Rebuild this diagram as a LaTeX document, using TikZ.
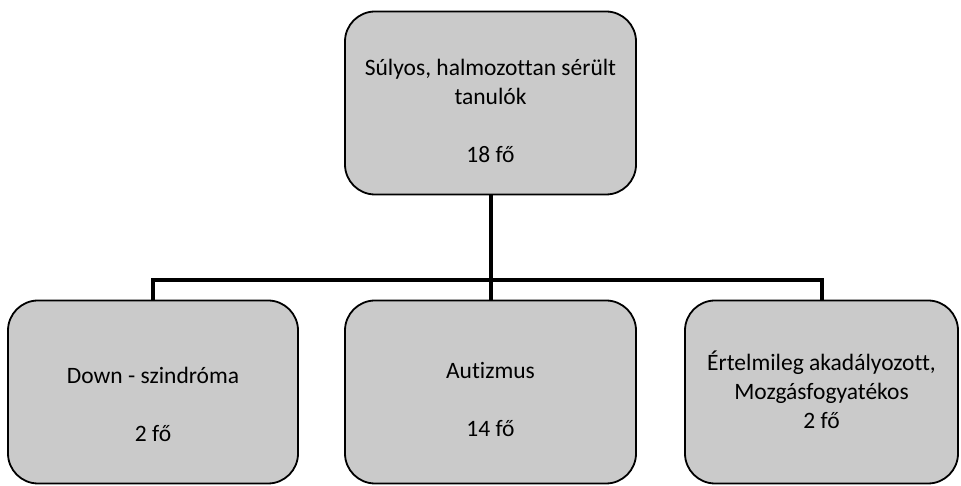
\documentclass[tikz,border=0pt]{standalone}
\usepackage{fontspec}
\setmainfont{Carlito}[Ligatures={NoCommon}]
\definecolor{boxfill}{HTML}{CACACA}
\begin{document}
\begin{tikzpicture}[x=1pt,y=1pt,
  box/.style={draw=black, line width=1.8pt, fill=boxfill, rounded corners=30pt, minimum width=291pt, minimum height=183pt, inner sep=0pt},
  lbl/.style={align=center, font=\fontsize{23.5}{29}\selectfont, inner sep=0pt},
  conn/.style={draw=black, line width=4pt}]
\useasboundingbox (0,0) rectangle (961,486);
\fill[white] (0,0) rectangle (961,486);
\node[box] (top) at (490.5,383) {};
\node[box, minimum width=290pt] (left) at (153,94) {};
\node[box, minimum width=291pt] (mid) at (490.5,94) {};
\node[box, minimum width=273pt] (right) at (821.5,94) {};
\coordinate (bus) at (490.5,206);
\draw[conn] (top.south) -- (bus);
\draw[conn] (mid.north) -- (bus);
\draw[conn] (left.north) |- (bus) -| (right.north);
\node[lbl] (toplbl) at ([yshift=-8pt]top.center) {Súlyos, halmozottan sérült\\tanulók\\[29pt]18 fő};
\node[lbl] (leftlbl) at ([yshift=-12pt]left.center) {Down - szindróma\\[29pt]2 fő};
\node[lbl] (midlbl) at ([yshift=-8pt]mid.center) {Autizmus\\[29pt]14 fő};
\node[lbl] (rightlbl) at ([yshift=2pt]right.center) {Értelmileg akadályozott,\\Mozgásfogyatékos\\2 fő};
\end{tikzpicture}
\end{document}
